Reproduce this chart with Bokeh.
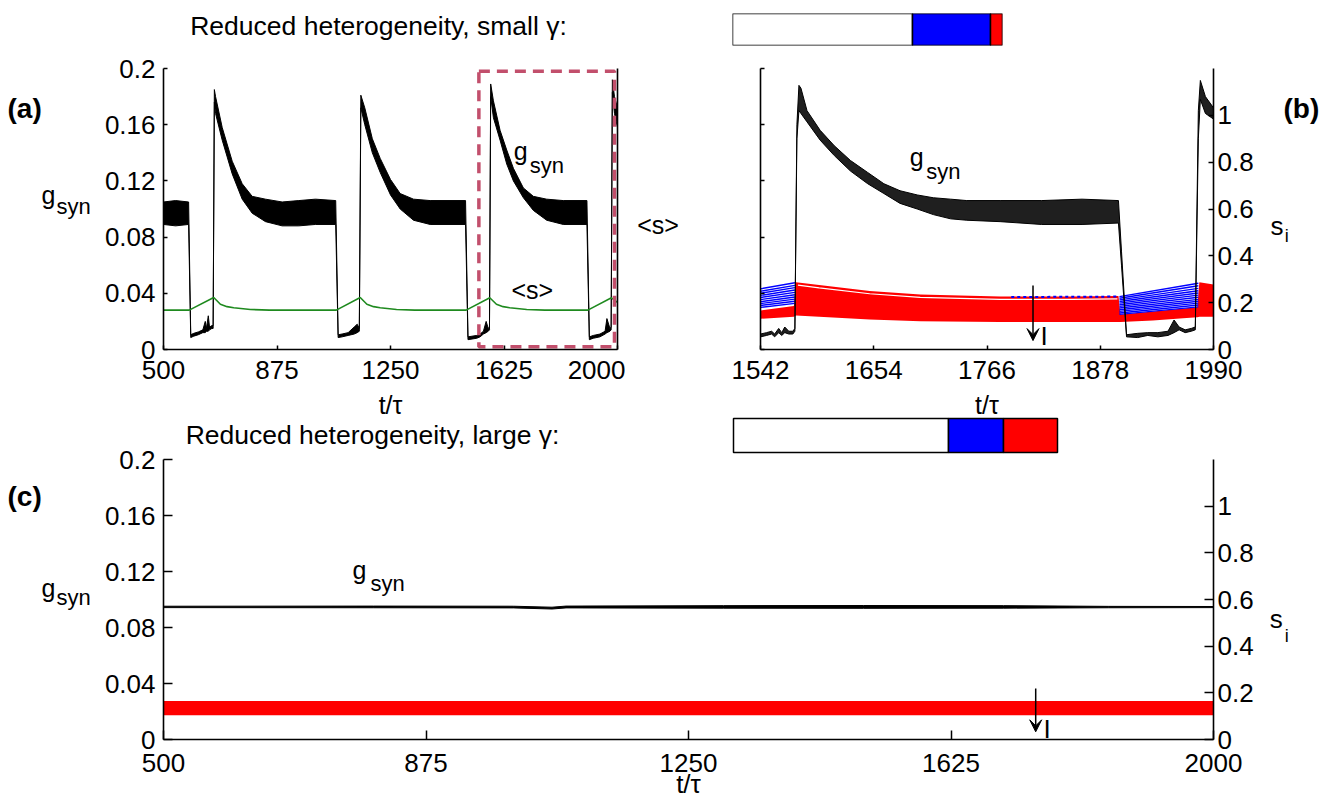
import numpy as np
from bokeh.plotting import figure
from bokeh.models import Range1d, LinearAxis, FixedTicker, Label, Arrow, VeeHead
from bokeh.layouts import row, column
from bokeh.embed import file_html
from bokeh.resources import INLINE

FONT = "Liberation Sans"

# ---------------- data ----------------
# panel (a): noisy g_syn trace, lower / upper edge of the band
ta = [500, 540, 583, 590, 600, 615, 630, 638, 642, 648, 652, 660, 664, 668, 672, 694, 727, 760, 793, 837,
      892, 947, 1002, 1069, 1077, 1090, 1110, 1130, 1140, 1147, 1152, 1165, 1190, 1216, 1250, 1282, 1326,
      1381, 1440, 1498, 1506, 1535, 1546, 1557, 1566, 1573, 1577, 1581, 1590, 1612, 1634, 1656, 1689,
      1722, 1766, 1821, 1899, 1907, 1920, 1942, 1959, 1965, 1975, 1979, 1983, 1990, 2000]
ga_lo = [0.089, 0.088, 0.089, 0.0085, 0.0095, 0.0105, 0.012, 0.012, 0.013, 0.013,
         0.014, 0.015, 0.015, 0.176, 0.168, 0.149, 0.125, 0.107, 0.097, 0.091,
         0.088, 0.088, 0.089, 0.089, 0.0085, 0.009, 0.010, 0.011, 0.012, 0.013,
         0.172, 0.160, 0.140, 0.126, 0.110, 0.100, 0.092, 0.089, 0.089, 0.089,
         0.007, 0.008, 0.009, 0.011, 0.012, 0.013, 0.014, 0.180, 0.165, 0.149,
         0.132, 0.120, 0.108, 0.099, 0.092, 0.089, 0.089, 0.007, 0.008, 0.009,
         0.011, 0.012, 0.013, 0.014, 0.183, 0.168, 0.158]
ga_hi = [0.105, 0.106, 0.105, 0.0105, 0.0115, 0.0125, 0.014, 0.020, 0.015, 0.024,
         0.016, 0.017, 0.017, 0.185, 0.180, 0.158, 0.134, 0.118, 0.109, 0.107,
         0.105, 0.106, 0.107, 0.106, 0.0105, 0.011, 0.012, 0.016, 0.018, 0.015,
         0.181, 0.172, 0.150, 0.136, 0.121, 0.111, 0.107, 0.106, 0.106, 0.106,
         0.009, 0.010, 0.011, 0.013, 0.020, 0.015, 0.016, 0.189, 0.177, 0.156,
         0.142, 0.129, 0.115, 0.109, 0.107, 0.106, 0.106, 0.009, 0.010, 0.011,
         0.013, 0.022, 0.015, 0.016, 0.192, 0.180, 0.172]
# panel (a): population mean <s> (drawn on the g_syn scale)
ts_a = [500, 585, 666, 688, 710, 732, 787, 850, 1071, 1150, 1172, 1194, 1216, 1270, 1330,
        1500, 1578, 1600, 1622, 1644, 1700, 1760, 1902, 1980, 2000]
s_mean_a = [0.028, 0.028, 0.037, 0.0322, 0.0305, 0.0297, 0.0285, 0.028, 0.028, 0.037, 0.0322,
            0.0305, 0.0297, 0.0285, 0.028, 0.028, 0.0368, 0.0322, 0.0305, 0.0297, 0.0285,
            0.028, 0.028, 0.0368, 0.0335]
# zoom window of panel (b), drawn in (a)
zoom_t = [1542, 1990]
zoom_g = [0.002, 0.198]

# panel (b): g_syn band
tb = [1542, 1548, 1553, 1556, 1560, 1563, 1566, 1570, 1574, 1576, 1578, 1580, 1582, 1588, 1601,
      1615, 1631, 1648, 1664, 1680, 1697, 1713, 1730, 1746, 1779, 1820, 1860, 1896, 1899, 1904,
      1915, 1925, 1935, 1945, 1951, 1956, 1962, 1968, 1972, 1975, 1977, 1982, 1990]
gb_lo = [0.009, 0.010, 0.011, 0.009, 0.012, 0.010, 0.012, 0.011, 0.011, 0.013,
         0.150, 0.170, 0.168, 0.162, 0.149, 0.138, 0.127, 0.118, 0.111, 0.104,
         0.100, 0.096, 0.093, 0.092, 0.091, 0.089, 0.089, 0.090, 0.060, 0.0090,
         0.0085, 0.010, 0.009, 0.010, 0.012, 0.014, 0.012, 0.013, 0.014, 0.150,
         0.178, 0.168, 0.164]
gb_hi = [0.011, 0.012, 0.013, 0.011, 0.015, 0.012, 0.016, 0.013, 0.013, 0.015,
         0.160, 0.188, 0.186, 0.170, 0.156, 0.145, 0.1345, 0.126, 0.118, 0.113,
         0.110, 0.108, 0.107, 0.106, 0.106, 0.106, 0.107, 0.106, 0.070, 0.0105,
         0.0115, 0.012, 0.012, 0.013, 0.021, 0.016, 0.014, 0.015, 0.016, 0.170,
         0.1915, 0.180, 0.172]
# panel (b): s_i of the red population (band) on the right axis
rb_t = [1542, 1575, 1577, 1600, 1650, 1700, 1779, 1850, 1896, 1898, 1930, 1960, 1974, 1976, 1990]
rb_lo = [0.131, 0.140, 0.145, 0.140, 0.128, 0.121, 0.117, 0.117, 0.117, 0.117, 0.124, 0.133, 0.138, 0.140, 0.140]
rb_hi = [0.167, 0.186, 0.287, 0.275, 0.250, 0.235, 0.226, 0.226, 0.228, 0.150, 0.162, 0.175, 0.181, 0.287, 0.278]
# panel (b): blue s_i traces during the two low phases
blue1_t = [1542, 1576]
blue1_start = [0.259, 0.249, 0.240, 0.231, 0.222, 0.213, 0.204, 0.196, 0.188, 0.180]
blue1_end = [0.285, 0.274, 0.264, 0.254, 0.244, 0.234, 0.224, 0.215, 0.206, 0.197]
blue2_t = [1897, 1975]
blue2_start = [0.226, 0.219, 0.212, 0.205, 0.198, 0.191, 0.184, 0.177, 0.170, 0.163, 0.156, 0.150]
blue2_end = [0.283, 0.272, 0.261, 0.251, 0.241, 0.232, 0.223, 0.214, 0.206, 0.198, 0.190, 0.182]
bdot_t = [1790, 1895]
bdot_s = [0.224, 0.226]
gap_t = [1579, 1600, 1650, 1700, 1779, 1850, 1895]
gap_s = [0.275, 0.263, 0.238, 0.223, 0.214, 0.214, 0.216]
arrow_b_t = 1811.5
arrow_b_s = [0.273, 0.038]

# panel (c)
tc = [500, 800, 1000, 1055, 1075, 1300, 1500, 1700, 1850, 2000]
gc_lo = [0.0942, 0.0941, 0.0940, 0.0932, 0.0940, 0.0938, 0.0937, 0.0938, 0.0941, 0.0942]
gc_hi = [0.0952, 0.0953, 0.0952, 0.0945, 0.0953, 0.0956, 0.0957, 0.0956, 0.0951, 0.0950]
rc_t = [500, 2000]
rc_lo = [0.104, 0.104]
rc_hi = [0.165, 0.165]
arrow_c_t = 1746
arrow_c_s = [0.219, 0.033]

# colour bars (segment lengths)
bar_colors = ["white", "#0000ff", "#ff0000"]
bar1_widths = [180, 78, 12]
bar2_widths = [215, 55, 54]

# ticks
ticks_t_ac = [500, 875, 1250, 1625, 2000]
ticks_t_b = [1542, 1654, 1766, 1878, 1990]
ticks_g = [0, 0.04, 0.08, 0.12, 0.16, 0.2]
labels_g = ["0", "0.04", "0.08", "0.12", "0.16", "0.2"]
ticks_s = [0, 0.2, 0.4, 0.6, 0.8, 1]
labels_s = ["0", "0.2", "0.4", "0.6", "0.8", "1"]

TICK_FS = "26px"


# ---------------- helpers ----------------
def base_fig(w, h, l, r, t, b, xr, yr):
    p = figure(width=w, height=h, min_border_left=l, min_border_right=r,
               min_border_top=t, min_border_bottom=b,
               x_range=Range1d(*xr), y_range=Range1d(*yr),
               x_axis_type=None, y_axis_type=None,
               output_backend="svg", toolbar_location=None)
    p.outline_line_color = None
    p.background_fill_color = "white"
    p.border_fill_color = "white"
    try:
        p.frame_align = False
    except Exception:
        pass
    return p


def text_fig(x0, x1, y0, y1):
    # a text-only panel whose data coordinates equal the page pixels
    return base_fig(x1 - x0, y1 - y0, 0, 0, 0, 0, (x0, x1), (y1, y0))


def add_axis(p, side, ticks, labels, tick_in, standoff, range_name=None, bounds=None, label=None):
    kw = {}
    if range_name is not None:
        kw["y_range_name"] = range_name
    ax = LinearAxis(ticker=FixedTicker(ticks=ticks), **kw)
    if bounds is not None:
        ax.bounds = bounds
    if labels is not None:
        ax.major_label_overrides = dict(zip(ticks, labels))
    ax.major_tick_in = tick_in
    ax.major_tick_out = 0
    ax.minor_tick_in = 0
    ax.minor_tick_out = 0
    ax.axis_line_width = 1.6
    ax.axis_line_color = "black"
    ax.major_tick_line_width = 1.5
    ax.major_tick_line_color = "black"
    ax.major_label_text_font = FONT
    ax.major_label_text_font_size = TICK_FS
    ax.major_label_text_color = "black"
    ax.major_label_standoff = standoff
    if label is not None:
        ax.axis_label = label
        ax.axis_label_text_font = FONT
        ax.axis_label_text_font_size = "26px"
        ax.axis_label_text_font_style = "normal"
        ax.axis_label_text_color = "black"
        ax.axis_label_standoff = -6
    p.add_layout(ax, side)
    return ax


def lab(p, x, y, text, size=25, bold=False, align="left"):
    # (x, y) is the intended baseline anchor; y_offset compensates the renderer's baseline shift
    l = Label(x=x, y=y, text=text, text_font=FONT, text_font_size=f"{size}px",
              text_align=align, text_baseline="alphabetic", text_color="black",
              y_offset=round(0.3 * size))
    if bold:
        l.text_font_style = "bold"
    p.add_layout(l)


H_TOP = 389

# ---------------- panel (a) ----------------
pa = base_fig(524, H_TOP, 62, 8, 0, 40, (500, 2000), (0, 0.2484))
pa.varea(x=ta, y1=ga_lo, y2=ga_hi, fill_color="black")
pa.line(ta, ga_lo, line_color="black", line_width=1)
pa.line(ta, ga_hi, line_color="black", line_width=1)
pa.line(ts_a, s_mean_a, line_color="#1f8a1f", line_width=1.6)
pa.quad(left=zoom_t[0], right=zoom_t[1], bottom=zoom_g[0], top=zoom_g[1],
        fill_color=None, line_color="#c24f6c", line_width=3.5, line_dash="11 7")
add_axis(pa, "left", ticks_g, labels_g, 4, 8, bounds=(0, 0.2))
add_axis(pa, "below", ticks_t_ac, None, 4, 11)
add_axis(pa, "right", [], None, 0, 0, bounds=(0, 0.2))
lab(pa, 1210.4, 0.2247, "Reduced heterogeneity, small \u03b3:", size=26.5, align="center")
lab(pa, 1657.4, 0.1359, "g")
lab(pa, 1710.3, 0.1263, "syn", size=22)
lab(pa, 1649.8, 0.0370, "<s>")

la = text_fig(0, 101, 0, H_TOP)
lab(la, 7, 116, "(a)", size=28, bold=True)
lab(la, 41, 202, "g")
lab(la, 56, 212.5, "syn", size=22)

ra = text_fig(625, 706, 0, H_TOP)
lab(ra, 636.7, 232, "<s>")

# ---------------- colour bar 1 ----------------
cb1 = base_fig(628, 60, 26, 332, 13, 15, (0, sum(bar1_widths)), (0, 1))
e1 = np.concatenate([[0], np.cumsum(bar1_widths)])
cb1.quad(left=e1[:-1], right=e1[1:], bottom=0, top=1, fill_color=bar_colors,
         line_color="black", line_width=1.5)

# ---------------- panel (b) ----------------
pb = base_fig(557, H_TOP - 60, 54, 50, 8, 40, (1542, 1990), (0, 0.2))
pb.extra_y_ranges = {"s": Range1d(0, 1.2)}
pb.varea(x=rb_t, y1=rb_lo, y2=rb_hi, fill_color="#ff0000", y_range_name="s")
pb.line(gap_t, gap_s, line_color="white", line_width=1.2, y_range_name="s")
pb.multi_line([blue1_t] * len(blue1_start), [[a, b] for a, b in zip(blue1_start, blue1_end)],
              line_color="#0000ff", line_width=1.4, y_range_name="s")
pb.multi_line([blue2_t] * len(blue2_start), [[a, b] for a, b in zip(blue2_start, blue2_end)],
              line_color="#0000ff", line_width=1.4, y_range_name="s")
pb.line(bdot_t, bdot_s, line_color="#0000ff", line_width=2, line_dash="3 3", y_range_name="s")
pb.varea(x=tb, y1=gb_lo, y2=gb_hi, fill_color="black", fill_alpha=0.88)
pb.line(tb, gb_lo, line_color="black", line_width=1)
pb.line(tb, gb_hi, line_color="black", line_width=1)
add_axis(pb, "left", ticks_g, [""] * len(ticks_g), 4, 0)
add_axis(pb, "below", ticks_t_b, None, 4, 11)
add_axis(pb, "right", ticks_s, labels_s, 5, 4, range_name="s")
pb.add_layout(Arrow(end=VeeHead(size=12, fill_color="black", line_color="black"),
                    x_start=arrow_b_t, y_start=arrow_b_s[0], x_end=arrow_b_t, y_end=arrow_b_s[1],
                    line_width=1.5, line_color="black", y_range_name="s"))
lab(pb, 1689.7, 0.131, "g")
lab(pb, 1705.9, 0.1214, "syn", size=22)
lab(pb, 1818.9, 0.0041, "I", size=26)

rb = text_fig(1263, 1334, 60, H_TOP)
lab(rb, 1283, 116, "(b)", size=28, bold=True)
lab(rb, 1270, 233.3, "s", size=26)
lab(rb, 1284.3, 240.7, "i", size=18)

# ---------------- panel (c) (frame also holds the t/tau of (a),(b), title 2 and colour bar 2) ----------------
pc = base_fig(1162, 805 - H_TOP, 62, 50, 0, 66, (500, 2000), (0, 0.25))
pc.extra_y_ranges = {"s": Range1d(0, 1.5), "bary": Range1d(-8.4412, 1.8529)}
pc.extra_x_ranges = {"barx": Range1d(-570, 480)}
pc.varea(x=rc_t, y1=rc_lo, y2=rc_hi, fill_color="#ff0000", y_range_name="s")
pc.varea(x=tc, y1=gc_lo, y2=gc_hi, fill_color="black")
pc.line(tc, gc_lo, line_color="black", line_width=1)
pc.line(tc, gc_hi, line_color="black", line_width=1)
e2 = np.concatenate([[0], np.cumsum(bar2_widths)])
pc.quad(left=e2[:-1], right=e2[1:], bottom=0, top=1, fill_color=bar_colors,
        line_color="black", line_width=1.5, x_range_name="barx", y_range_name="bary")
add_axis(pc, "left", ticks_g, labels_g, 9, 8, bounds=(0, 0.2))
add_axis(pc, "below", ticks_t_ac, None, 9, 14, label="t/\u03c4")
add_axis(pc, "right", ticks_s, labels_s, 9, 4, range_name="s", bounds=(0, 1.2))
pc.add_layout(Arrow(end=VeeHead(size=12, fill_color="black", line_color="black"),
                    x_start=arrow_c_t, y_start=arrow_c_s[0], x_end=arrow_c_t, y_end=arrow_c_s[1],
                    line_width=1.5, line_color="black", y_range_name="s"))
lab(pc, 824.3, 0.23357, "t/\u03c4", size=25, align="center")     # x label of (a)
lab(pc, 1676.4, 0.23357, "t/\u03c4", size=25, align="center")    # x label of (b)
lab(pc, 798.6, 0.2121, "Reduced heterogeneity, large \u03b3:", size=26.5, align="center")
lab(pc, 770, 0.1157, "g")
lab(pc, 795.7, 0.1061, "syn", size=22)
lab(pc, 1757, 0.0016, "I", size=26)

lc = text_fig(0, 101, H_TOP, 805)
lab(lc, 7, 504, "(c)", size=28, bold=True)
lab(lc, 41, 595, "g")
lab(lc, 56, 604, "syn", size=22)

rc = text_fig(1263, 1334, H_TOP, 805)
lab(rc, 1269.3, 626.7, "s", size=26)
lab(rc, 1284.3, 640, "i", size=18)

top = row(row(la, pa, ra), column(cb1, row(pb, rb)))
bottom = row(lc, pc, rc)
layout = column(top, bottom)
open("out.html", "w").write(file_html(layout, INLINE))
